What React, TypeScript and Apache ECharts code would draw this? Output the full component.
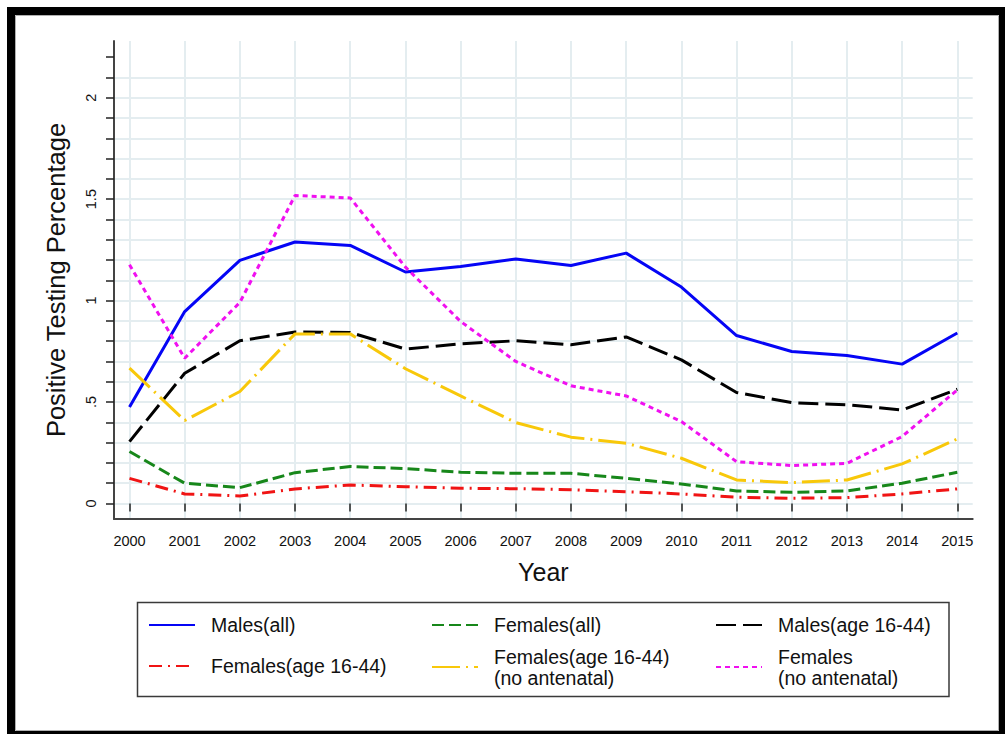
import React, { useEffect, useRef } from 'react';
import * as echarts from 'echarts';

const years = [2000, 2001, 2002, 2003, 2004, 2005, 2006, 2007, 2008, 2009, 2010, 2011, 2012, 2013, 2014, 2015];

const malesAll = [0.475, 0.946, 1.198, 1.289, 1.272, 1.141, 1.168, 1.205, 1.173, 1.234, 1.067, 0.828, 0.749, 0.729, 0.687, 0.84];
const femalesAll = [0.256, 0.1, 0.078, 0.152, 0.182, 0.172, 0.154, 0.149, 0.149, 0.124, 0.096, 0.062, 0.055, 0.062, 0.1, 0.154];
const males1644 = [0.305, 0.642, 0.802, 0.845, 0.843, 0.761, 0.787, 0.802, 0.782, 0.821, 0.708, 0.547, 0.497, 0.487, 0.461, 0.563];
const females1644 = [0.124, 0.047, 0.037, 0.072, 0.091, 0.083, 0.075, 0.073, 0.068, 0.058, 0.047, 0.031, 0.026, 0.029, 0.047, 0.072];
const females1644NoAnte = [0.667, 0.409, 0.552, 0.836, 0.836, 0.664, 0.53, 0.399, 0.327, 0.297, 0.223, 0.116, 0.103, 0.116, 0.195, 0.318];
const femalesNoAnte = [1.177, 0.716, 0.991, 1.518, 1.506, 1.165, 0.897, 0.7, 0.58, 0.53, 0.404, 0.206, 0.187, 0.198, 0.33, 0.56];

const seriesNames = [
  'Males(all)',
  'Females(all)',
  'Males(age 16-44)',
  'Females(age 16-44)',
  'Females(age 16-44)\n(no antenatal)',
  'Females\n(no antenatal)',
];
const seriesValues = [malesAll, femalesAll, males1644, females1644, females1644NoAnte, femalesNoAnte];
const seriesColors = ['#0505f5', '#17871a', '#000000', '#f01414', '#f8c80a', '#f010f0'];
const seriesDash: (number[] | 'solid')[] = ['solid', [12, 5], [20, 7], [13, 6, 2, 6], [28, 6, 2, 6], [5, 4]];

const yLabelValues = [0, 0.5, 1, 1.5, 2];
const yLabelTexts = ['0', '.5', '1', '1.5', '2'];

const FONT = "'Liberation Sans', Arial, Helvetica, sans-serif";

export default function App() {
  const ref = useRef<HTMLDivElement>(null);

  useEffect(() => {
    const chart = echarts.init(ref.current as HTMLDivElement, null, { renderer: 'svg' });

    const gridLineColor = '#e4edf0';

    const legendPos = [
      { left: 148, top: 609 },
      { left: 431, top: 609 },
      { left: 715, top: 609 },
      { left: 148, top: 650 },
      { left: 431, top: 646 },
      { left: 715, top: 646 },
    ];

    const option: any = {
      animation: false,
      backgroundColor: '#ffffff',
      textStyle: { fontFamily: FONT },
      grid: [
        { left: 114, right: 32.3, top: 57.1, bottom: 230.5 },
        { left: 129.5, right: 47.7, top: 41, bottom: 215 },
        { left: 114, right: 32.3, top: 41, bottom: 215 },
      ],
      xAxis: [
        { gridIndex: 0, type: 'value', min: 0, max: 1, show: false },
        {
          gridIndex: 1,
          type: 'value',
          min: 2000,
          max: 2015,
          interval: 1,
          axisLine: { show: false },
          axisTick: { show: true, length: 8, lineStyle: { color: '#222', width: 1.5 } },
          axisLabel: {
            show: true,
            fontSize: 14.5,
            color: '#111',
            fontFamily: FONT,
            margin: 14,
            formatter: (v: number) => String(v),
          },
          splitLine: { show: true, lineStyle: { color: gridLineColor, width: 2 } },
        },
        {
          gridIndex: 2,
          type: 'value',
          min: 0,
          max: 1,
          axisLine: { show: true, lineStyle: { color: '#444', width: 2 } },
          axisTick: { show: false },
          axisLabel: { show: false },
          splitLine: { show: false },
          name: 'Year',
          nameLocation: 'middle',
          nameGap: 40,
          nameTextStyle: { fontSize: 25, color: '#111', fontFamily: FONT },
        },
      ],
      yAxis: [
        {
          gridIndex: 0,
          type: 'value',
          min: 0,
          max: 2.2,
          interval: 0.1,
          axisLine: { show: false },
          axisTick: { show: true, length: 8, lineStyle: { color: '#222', width: 1.5 } },
          axisLabel: {
            show: true,
            rotate: 90,
            fontSize: 14.5,
            color: '#111',
            fontFamily: FONT,
            margin: 16,
            formatter: (v: number) => {
              const idx = yLabelValues.findIndex((t) => Math.abs(t - v) < 1e-6);
              return idx >= 0 ? yLabelTexts[idx] : '';
            },
          },
          splitLine: { show: true, showMaxLine: false, lineStyle: { color: gridLineColor, width: 2 } },
        },
        { gridIndex: 1, type: 'value', min: -0.0764, max: 2.2795, show: false },
        {
          gridIndex: 2,
          type: 'value',
          min: 0,
          max: 1,
          axisLine: { show: true, lineStyle: { color: '#444', width: 2 } },
          axisTick: { show: false },
          axisLabel: { show: false },
          splitLine: { show: false },
          name: 'Positive Testing Percentage',
          nameLocation: 'middle',
          nameRotate: 90,
          nameGap: 45,
          nameTextStyle: { fontSize: 25.5, color: '#111', fontFamily: FONT },
        },
      ],
      legend: seriesNames.map((name, i) => ({
        data: [name],
        left: legendPos[i].left,
        top: legendPos[i].top,
        orient: 'horizontal',
        padding: 0,
        itemWidth: 46,
        itemHeight: 40,
        selectedMode: false,
        itemStyle: { opacity: 0, borderWidth: 0 },
        textStyle: {
          fontSize: 19.5,
          color: '#111',
          fontFamily: FONT,
          lineHeight: 21,
          padding: [0, 0, 0, 11],
        },
      })),
      series: seriesNames.map((name, i) => ({
        name,
        type: 'line',
        xAxisIndex: 1,
        yAxisIndex: 1,
        symbol: 'none',
        showSymbol: false,
        data: years.map((y, j) => [y, seriesValues[i][j]]),
        lineStyle: {
          color: seriesColors[i],
          width: 3,
          type: seriesDash[i],
          cap: 'butt',
        },
        itemStyle: { color: seriesColors[i] },
        z: 3 + i,
      })),
      graphic: [
        { type: 'rect', shape: { x: 7, y: 7, width: 998, height: 8 }, style: { fill: '#000' }, silent: true },
        { type: 'rect', shape: { x: 7, y: 7, width: 8, height: 727 }, style: { fill: '#000' }, silent: true },
        { type: 'rect', shape: { x: 999, y: 7, width: 6, height: 727 }, style: { fill: '#000' }, silent: true },
        { type: 'rect', shape: { x: 7, y: 731, width: 998, height: 3 }, style: { fill: '#000' }, silent: true },
        {
          type: 'rect',
          shape: { x: 15.5, y: 15.5, width: 983, height: 715 },
          style: { fill: 'none', stroke: '#b0b0b0', lineWidth: 1 },
          silent: true,
        },
        {
          type: 'rect',
          shape: { x: 137.5, y: 602.5, width: 811.5, height: 94 },
          style: { fill: 'none', stroke: '#3a3a3a', lineWidth: 1.5 },
          silent: true,
        },
      ],
    };

    chart.setOption(option);
    return () => chart.dispose();
  }, []);

  return (
    <div
      ref={ref}
      style={{ position: 'absolute', left: 0, top: 0, width: 1005, height: 734, background: '#fff' }}
    />
  );
}
